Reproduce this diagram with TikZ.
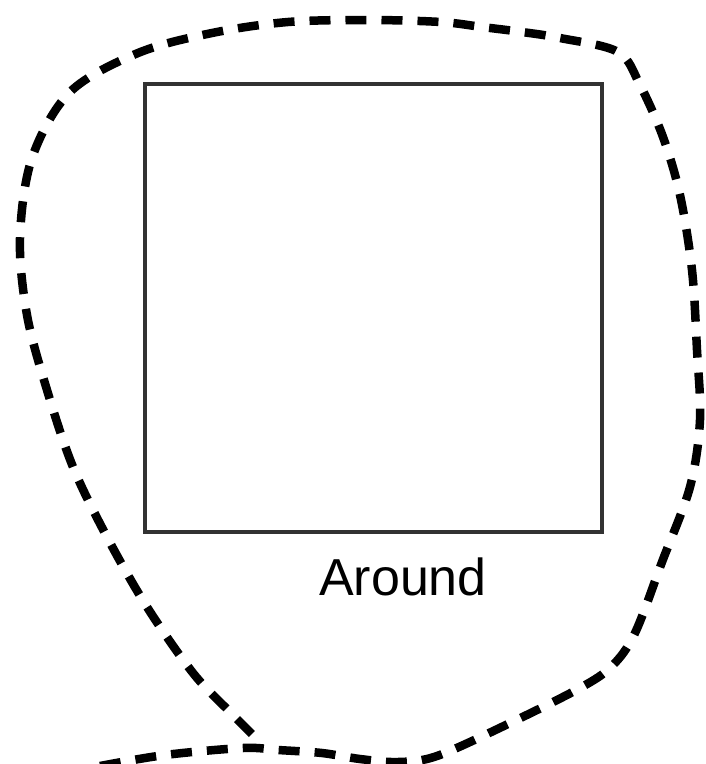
\documentclass[tikz,border=0pt]{standalone}
\usepackage{fontspec}
\setmainfont{Liberation Sans}
\begin{document}
\begin{tikzpicture}[x=1pt,y=-1pt,
  loopline/.style={line width=8.5pt,dash pattern=on 21pt off 15pt,black},
  boxline/.style={line width=4pt,draw={rgb,255:red,50;green,50;blue,50}},
  lbl/.style={font=\fontsize{52}{60}\selectfont,inner sep=0pt}]
\useasboundingbox (0,0) rectangle (706,764);
\draw[boxline] (145,84) rectangle (602,532);
\node[lbl] (around) at (403,577) {Around};
\draw[loopline] plot[smooth,tension=0.55] coordinates {
 (100,766) (165,755) (243,748) (278,750) (322,753) (360,759) (398,762)
 (437,756) (508,724) (580,688) (612,666) (635,633) (662,562)
 (690,487) (700,420) (697,350) (692,270) (680,195) (663,137)
 (640,85) (618,52) (560,38) (522,32) (482,27) (441,22) (369,20)
 (288,22) (212,33) (138,53) (70,92) (32,158) (20,238) (27,315)
 (47,390) (73,467) (107,537) (147,607) (193,673) (230,712) (258,740)};
\end{tikzpicture}
\end{document}
